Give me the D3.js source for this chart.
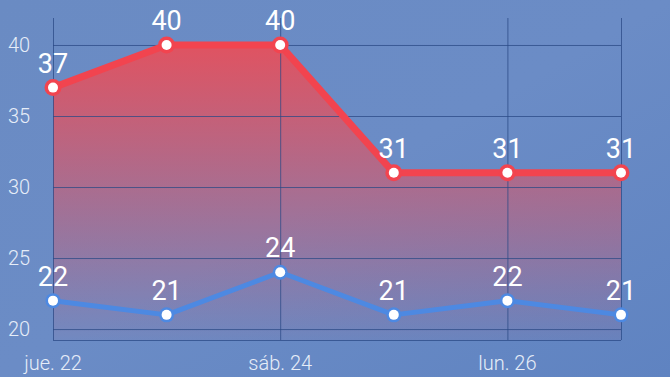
<!DOCTYPE html>
<meta charset="utf-8">
<script src="https://d3js.org/d3.v7.min.js"></script>
<style>
  body { margin: 0; overflow: hidden; }
  svg { display: block; font-family: Roboto, "Noto Sans", sans-serif; }
  .grid line { stroke: #2b4985; stroke-opacity: 0.75; stroke-width: 1px; }
  .ylab, .xlab { fill: #e6edf8; font-size: 20px; font-weight: 300; }
  .val { fill: #fff; font-size: 27px; font-weight: 400; text-anchor: middle; }
</style>
<body>
<div id="chart"></div>
<script>
  // data
  const days = ["jue. 22", "vie. 23", "sáb. 24", "dom. 25", "lun. 26", "mar. 27"];
  const maxTemps = [37, 40, 40, 31, 31, 31];
  const minTemps = [22, 21, 24, 21, 22, 21];
  const yTicks = [20, 25, 30, 35, 40];
  const xLabelIdx = [0, 2, 4];

  const width = 670, height = 377;

  const svg = d3.select("#chart").append("svg")
    .attr("width", width)
    .attr("height", height);

  const defs = svg.append("defs");

  // sky background
  const bg = defs.append("linearGradient").attr("id", "bg")
    .attr("x1", 0).attr("y1", 0).attr("x2", 1).attr("y2", 1);
  bg.append("stop").attr("offset", "0%").attr("stop-color", "#6a8bc3");
  bg.append("stop").attr("offset", "50%").attr("stop-color", "#6b8cc6");
  bg.append("stop").attr("offset", "100%").attr("stop-color", "#5f83c1");
  svg.append("rect").attr("width", width).attr("height", height).attr("fill", "url(#bg)");

  const x = d3.scalePoint().domain(d3.range(days.length)).range([53, 621]);
  const y = d3.scaleLinear().domain([19.23, 41.9]).range([340, 18]);

  // area gradient
  const ag = defs.append("linearGradient").attr("id", "areaGrad")
    .attr("gradientUnits", "userSpaceOnUse")
    .attr("x1", 0).attr("y1", y(40)).attr("x2", 0).attr("y2", y.range()[0]);
  ag.append("stop").attr("offset", "0%").attr("stop-color", "#e6505c").attr("stop-opacity", 0.95);
  ag.append("stop").attr("offset", "100%").attr("stop-color", "#e6505c").attr("stop-opacity", 0.05);

  // area under max line
  const area = d3.area()
    .x((d, i) => x(i))
    .y0(y.range()[0])
    .y1(d => y(d));
  svg.append("path").datum(maxTemps)
    .attr("d", area)
    .attr("fill", "url(#areaGrad)");

  // grid
  const grid = svg.append("g").attr("class", "grid");
  grid.selectAll("line.h").data(yTicks).join("line")
    .attr("class", "h")
    .attr("x1", x(0)).attr("x2", x(days.length - 1))
    .attr("y1", d => y(d) + 0.5).attr("y2", d => y(d) + 0.5);
  grid.append("line")
    .attr("x1", x(0)).attr("x2", x(days.length - 1))
    .attr("y1", y.range()[0] + 0.5).attr("y2", y.range()[0] + 0.5);
  const vIdx = xLabelIdx.concat([days.length - 1]);
  grid.selectAll("line.v").data(vIdx).join("line")
    .attr("class", "v")
    .attr("x1", d => x(d) + 0.5).attr("x2", d => x(d) + 0.5)
    .attr("y1", y.range()[1]).attr("y2", y.range()[0]);

  // y labels
  svg.selectAll("text.ylab").data(yTicks).join("text")
    .attr("class", "ylab")
    .attr("x", 8)
    .attr("y", d => y(d))
    .attr("dy", "0.36em")
    .text(d => d);

  // x labels
  svg.selectAll("text.xlab").data(xLabelIdx).join("text")
    .attr("class", "xlab")
    .attr("x", d => x(d))
    .attr("y", 370)
    .attr("text-anchor", "middle")
    .text(d => days[d]);

  const line = d3.line().x((d, i) => x(i)).y(d => y(d));

  function series(vals, color, lw, halo) {
    const g = svg.append("g");
    g.append("path").datum(vals)
      .attr("d", line)
      .attr("fill", "none")
      .attr("stroke", color)
      .attr("stroke-width", lw)
      .attr("stroke-linejoin", "round");
    g.selectAll("circle.halo").data(vals).join("circle")
      .attr("cx", (d, i) => x(i)).attr("cy", d => y(d))
      .attr("r", halo).attr("fill", color);
    g.selectAll("circle.dot").data(vals).join("circle")
      .attr("cx", (d, i) => x(i)).attr("cy", d => y(d))
      .attr("r", 5).attr("fill", "#fff");
    g.selectAll("text").data(vals).join("text")
      .attr("class", "val")
      .attr("x", (d, i) => x(i))
      .attr("y", d => y(d) - 15)
      .text(d => d);
  }

  series(minTemps, "#4d89e2", 5, 7.5);
  series(maxTemps, "#f2444f", 7, 8.5);
</script>
</body>
